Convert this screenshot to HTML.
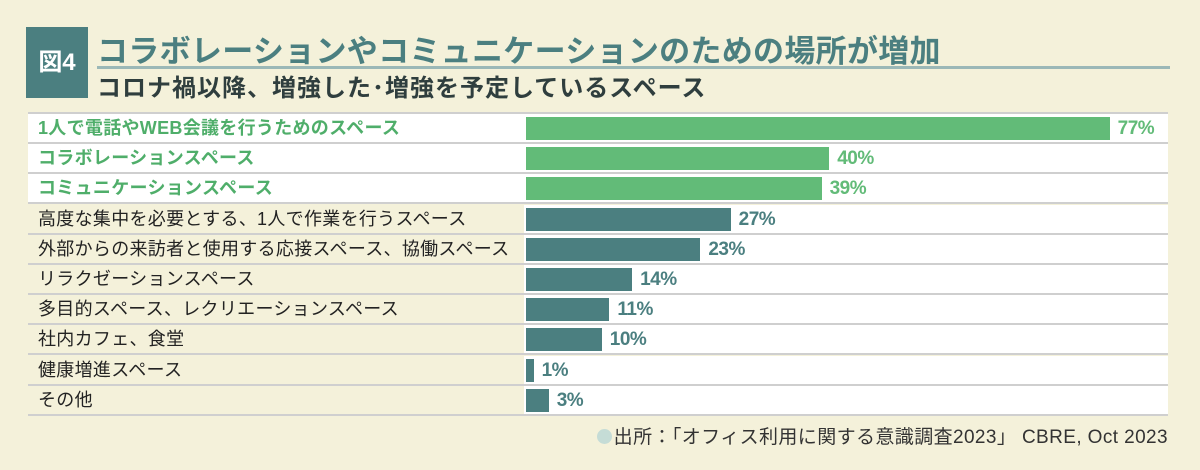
<!DOCTYPE html>
<html><head><meta charset="utf-8"><style>
body{margin:0;width:1200px;height:470px;background:#f4f1da;position:relative;overflow:hidden;font-family:"Liberation Sans","Noto Sans CJK JP",sans-serif}
.fig{position:absolute;left:26px;top:27px;width:62px;height:71px;background:#4b7f80;color:#fff;font-weight:bold;font-size:24px;line-height:71px;text-align:center}
.t1{position:absolute;left:97px;top:26px;font-size:31px;font-weight:bold;color:#4b7f80;white-space:nowrap;letter-spacing:0.3px}
.rule{position:absolute;left:97px;top:66px;width:1073px;height:3px;background:#9bb8b7}
.t2{position:absolute;left:97px;top:68px;font-size:24px;font-weight:bold;color:#2f3e3e;white-space:nowrap;letter-spacing:1px}
.row{position:absolute;left:28px;width:1140px;height:30px;border-bottom:2px solid #cfcfcf;box-sizing:border-box}
.lab{position:absolute;left:0;top:0;width:496px;height:100%;font-size:18px;line-height:28px;padding-left:10px;box-sizing:border-box;white-space:nowrap;color:#222;letter-spacing:0.3px}
.area{position:absolute;left:496px;top:0;right:0;height:100%;background:#fff}
.bar{position:absolute;left:2px;top:3px;height:23px}
.val{position:absolute;top:0;font-size:19px;font-weight:bold;line-height:30px;letter-spacing:-0.5px}
.src{position:absolute;right:32px;top:422px;font-size:19px;color:#333;white-space:nowrap;letter-spacing:0.4px}
.dot{display:inline-block;width:15px;height:15px;border-radius:50%;background:#c5dcd6;vertical-align:-1px;margin-right:2px}
</style></head><body>
<div class="fig">図4</div>
<div class="t1">コラボレーションやコミュニケーションのための場所が増加</div>
<div class="rule"></div>
<div class="t2">コロナ禍以降、増強した･増強を予定しているスペース</div>
<div style="position:absolute;left:28px;top:112px;width:1140px;height:2px;background:#cfcfcf"></div>
<div id="rows"></div>
<script>
var d=[["1人で電話やWEB会議を行うためのスペース",77,1],["コラボレーションスペース",40,1],["コミュニケーションスペース",39,1],["高度な集中を必要とする、1人で作業を行うスペース",27,0],["外部からの来訪者と使用する応接スペース、協働スペース",23,0],["リラクゼーションスペース",14,0],["多目的スペース、レクリエーションスペース",11,0],["社内カフェ、食堂",10,0],["健康増進スペース",1,0],["その他",3,0]];
var h="";d.forEach(function(r,i){var top=114+i*30.2;var g=r[2];var c=g?"#62bb78":"#4b7f80";var w=r[1]*7.58;
h+='<div class="row" style="top:'+top+'px"><div class="lab" style="'+(g?'background:#fff;color:#4fae6a;font-weight:bold':'')+'">'+r[0]+'</div><div class="area"><div class="bar" style="width:'+w+'px;background:'+c+'"></div><div class="val" style="left:'+(w+10)+'px;color:'+c+'">'+r[1]+'%</div></div></div>';});
document.getElementById("rows").innerHTML=h;
</script>
<div class="src"><span class="dot"></span>出所：「オフィス利用に関する意識調査2023」 CBRE, Oct 2023</div>
</body></html>
